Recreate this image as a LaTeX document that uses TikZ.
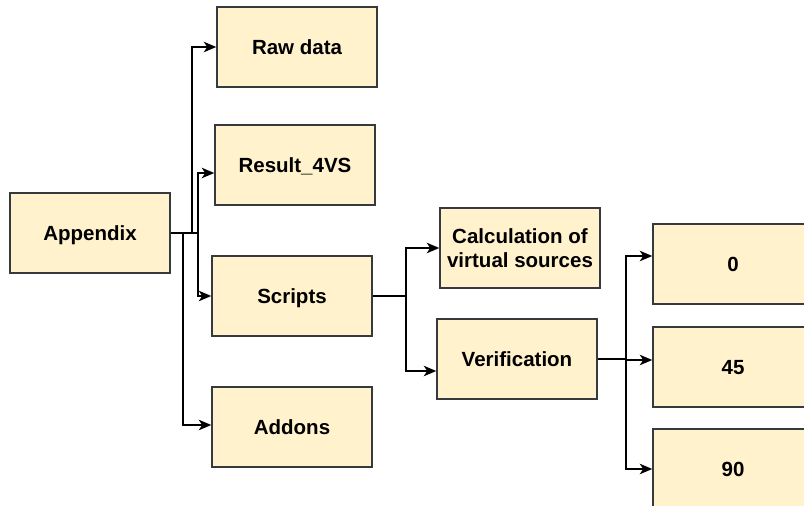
\documentclass[tikz,border=0pt]{standalone}
\usepackage{fontspec}
\setmainfont{Liberation Sans}
\usetikzlibrary{arrows.meta}
\definecolor{boxfill}{HTML}{FFF2CC}
\definecolor{boxline}{HTML}{36393D}
\begin{document}
\begin{tikzpicture}[x=1pt,y=-1pt,
  folder/.style={draw=boxline,fill=boxfill,line width=1.5pt,minimum width=160pt,
    minimum height=80pt,inner sep=0pt,align=center,
    font=\fontsize{20.5}{24}\selectfont\bfseries},
  oneline/.style={folder,text height=15pt,text depth=0pt},
  arr/.style={draw=black,line width=1.5pt,-{Stealth[length=12.5pt,width=10.5pt,inset=3.5pt]}}]
\useasboundingbox (0,0) rectangle (804,506);
\begin{scope}
\clip (0,0) rectangle (804,506);
% tree nodes
\node[oneline] (app) at (90,233) {Appendix};
\node[oneline] (raw) at (297,47) {Raw data};
\node[oneline] (res) at (295,165) {Result\_4VS};
\node[oneline] (scr) at (292,296) {Scripts};
\node[oneline] (add) at (292,427) {Addons};
\node[folder] (calc) at (520,248) {Calculation of\\virtual sources};
\node[oneline] (ver) at (517,359) {Verification};
\node[oneline] (v0) at (733,264) {0};
\node[oneline] (v45) at (733,367) {45};
\node[oneline] (v90) at (733,469) {90};
% branches from Appendix
\draw[arr] (app.east) -- ++(21,0) |- (raw.west);
\draw[arr] (app.east) -- ++(27,0) |- ([yshift=-8pt]res.west);
\draw[arr] (app.east) -- ++(27,0) |- (scr.west);
\draw[arr] (app.east) -- ++(12,0) |- ([yshift=2pt]add.west);
% branches from Scripts
\draw[arr] (scr.east) -- ++(33,0) |- (calc.west);
\draw[arr] (scr.east) -- ++(33,0) |- ([yshift=-12pt]ver.west);
% branches from Verification
\draw[arr] (ver.east) -- ++(28,0) |- ([yshift=8pt]v0.west);
\draw[arr] (ver.east) -- ++(28,0) |- ([yshift=7pt]v45.west);
\draw[arr] (ver.east) -- ++(28,0) |- (v90.west);
\end{scope}
\end{tikzpicture}
\end{document}
